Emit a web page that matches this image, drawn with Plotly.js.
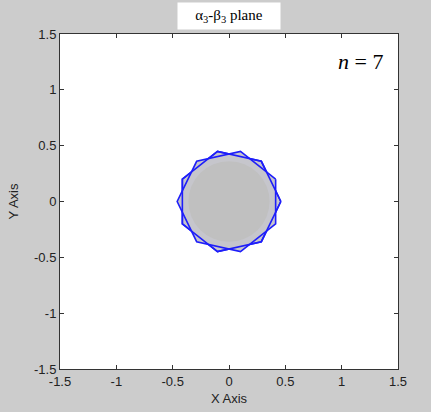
<!DOCTYPE html>
<html>
<head>
<meta charset="utf-8">
<script src="https://cdn.plot.ly/plotly-3.0.1.min.js"></script>
<style>html,body{margin:0;padding:0;background:#cccccc;}#chart{width:431px;height:412px;}</style>
</head>
<body>
<div id="chart"></div>
<script>
// Heptagon A vertices
const hepAx = [0.46, 0.287, -0.102, -0.414, -0.414, -0.102, 0.287, 0.46];
const hepAy = [0.0, 0.360, 0.448, 0.200, -0.200, -0.448, -0.360, 0.0];
// Heptagon B vertices (rotated half step)
const hepBx = [0.414, 0.102, -0.287, -0.46, -0.287, 0.102, 0.414, 0.414];
const hepBy = [0.200, 0.448, 0.360, 0.0, -0.360, -0.448, -0.200, 0.200];
// Inner disk radius
const diskRadius = 0.36;
const xTicks = [-1.5, -1, -0.5, 0, 0.5, 1, 1.5];
const yTicks = [-1.5, -1, -0.5, 0, 0.5, 1, 1.5];
const xTickText = ['-1.5', '-1', '-0.5', '0', '0.5', '1', '1.5'];
const yTickText = ['-1.5', '-1', '-0.5', '0', '0.5', '1', '1.5'];
const titleText = 'α<sub>3</sub>-β<sub>3</sub> plane';
const nLabel = '<i>n</i> = 7';

const lineStyle = {color: 'rgb(30,30,250)', width: 1.6};
const fillCol = '#c6c6cc';

const traces = [
  {x: hepAx, y: hepAy, mode: 'lines', fill: 'toself', fillcolor: fillCol, line: lineStyle, hoverinfo: 'skip', showlegend: false},
  {x: hepBx, y: hepBy, mode: 'lines', fill: 'toself', fillcolor: fillCol, line: lineStyle, hoverinfo: 'skip', showlegend: false},
  {x: hepAx, y: hepAy, mode: 'lines', line: lineStyle, hoverinfo: 'skip', showlegend: false}
];

const axisFont = {family: 'Arial, Liberation Sans, sans-serif', size: 13, color: '#222'};
const axisCommon = {
  showgrid: false, zeroline: false, showline: true, linecolor: '#333', linewidth: 1,
  mirror: 'ticks', ticks: 'inside', ticklen: 4, tickcolor: '#333',
  tickfont: axisFont, tickmode: 'array'
};

const layout = {
  width: 431, height: 412,
  paper_bgcolor: '#cccccc', plot_bgcolor: '#ffffff',
  margin: {l: 60, r: 33, t: 34, b: 43},
  xaxis: Object.assign({}, axisCommon, {range: [-1.5, 1.5], tickvals: xTicks, ticktext: xTickText,
    title: {text: 'X Axis', font: axisFont, standoff: 6}}),
  yaxis: Object.assign({}, axisCommon, {range: [-1.5, 1.5], tickvals: yTicks, ticktext: yTickText,
    title: {text: 'Y Axis', font: axisFont, standoff: 12}}),
  shapes: [
    {type: 'circle', xref: 'x', yref: 'y', x0: -diskRadius, x1: diskRadius, y0: -diskRadius, y1: diskRadius,
     fillcolor: '#c0c0c0', line: {width: 0}, layer: 'above'}
  ],
  annotations: [
    {text: titleText, xref: 'paper', yref: 'paper', x: 0.5, y: 1, yanchor: 'bottom', yshift: 4,
     showarrow: false, bgcolor: '#ffffff', width: 100, height: 24,
     font: {family: 'Liberation Serif, Times New Roman, serif', size: 15, color: '#000'}},
    {text: nLabel, xref: 'paper', yref: 'paper', x: 0.888, y: 0.919, xanchor: 'center', yanchor: 'middle',
     showarrow: false,
     font: {family: 'Liberation Serif, Times New Roman, serif', size: 22, color: '#000'}}
  ]
};

Plotly.newPlot('chart', traces, layout, {displayModeBar: false, staticPlot: true});
</script>
</body>
</html>
